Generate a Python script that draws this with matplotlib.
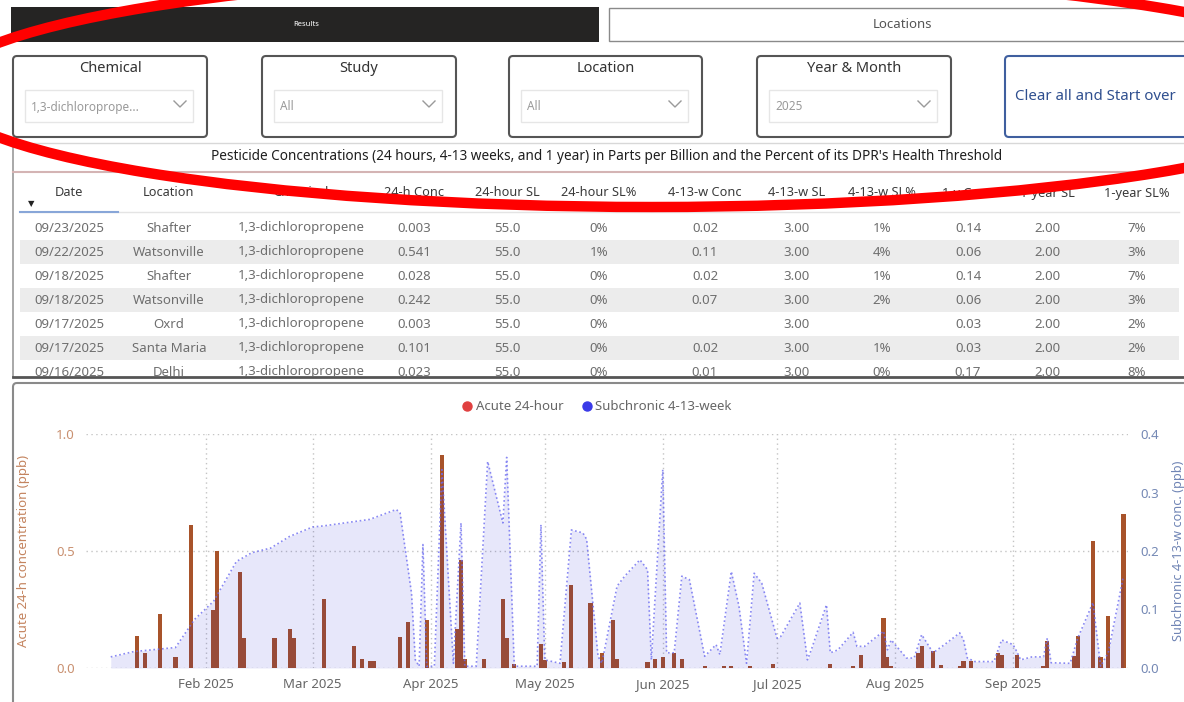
import matplotlib
matplotlib.use("Agg")
import matplotlib.pyplot as plt
import matplotlib.dates as mdates
from matplotlib.patches import FancyBboxPatch, Rectangle, Ellipse
from matplotlib.ticker import FormatStrFormatter
import pandas as pd

plt.rcParams['font.family'] = ['Noto Sans', 'DejaVu Sans']

# ---------------- data ----------------
acute_dates = ["2025-01-14", "2025-01-16", "2025-01-20", "2025-01-24", "2025-01-28", "2025-02-03",
               "2025-02-04", "2025-02-10", "2025-02-11", "2025-02-19", "2025-02-23", "2025-02-24",
               "2025-03-04", "2025-03-12", "2025-03-14", "2025-03-16", "2025-03-17", "2025-03-24",
               "2025-03-26", "2025-03-31", "2025-04-04", "2025-04-08", "2025-04-09", "2025-04-10",
               "2025-04-15", "2025-04-20", "2025-04-21", "2025-04-23", "2025-04-30", "2025-05-01",
               "2025-05-06", "2025-05-08", "2025-05-13", "2025-05-16", "2025-05-19", "2025-05-20",
               "2025-05-28", "2025-05-30", "2025-06-01", "2025-06-04", "2025-06-06", "2025-06-12",
               "2025-06-17", "2025-06-19", "2025-06-24", "2025-06-30", "2025-07-15", "2025-07-21",
               "2025-07-23", "2025-07-29", "2025-07-30", "2025-07-31", "2025-08-07", "2025-08-08",
               "2025-08-11", "2025-08-13", "2025-08-18", "2025-08-19", "2025-08-21", "2025-08-28",
               "2025-08-29", "2025-09-02", "2025-09-09", "2025-09-10", "2025-09-17", "2025-09-18",
               "2025-09-22", "2025-09-24", "2025-09-26", "2025-09-30"]
acute_vals = [0.138, 0.064, 0.232, 0.046, 0.613, 0.25, 0.50, 0.41, 0.128, 0.128, 0.167, 0.128,
              0.296, 0.093, 0.038, 0.028, 0.028, 0.131, 0.197, 0.207, 0.912, 0.167, 0.463, 0.038,
              0.038, 0.296, 0.128, 0.019, 0.103, 0.036, 0.027, 0.353, 0.278, 0.064, 0.204, 0.038,
              0.027, 0.038, 0.047, 0.064, 0.038, 0.010, 0.010, 0.007, 0.007, 0.017, 0.019, 0.010,
              0.056, 0.214, 0.046, 0.010, 0.064, 0.093, 0.074, 0.014, 0.010, 0.028, 0.028, 0.064,
              0.056, 0.056, 0.010, 0.114, 0.052, 0.135, 0.541, 0.046, 0.224, 0.658]

sub_dates = ["2025-01-07", "2025-01-13", "2025-01-24", "2025-01-29", "2025-02-03", "2025-02-09",
             "2025-02-13", "2025-02-18", "2025-02-23", "2025-03-01", "2025-03-04", "2025-03-16",
             "2025-03-23", "2025-03-24", "2025-03-27", "2025-03-28", "2025-03-29", "2025-03-30",
             "2025-03-31", "2025-04-02", "2025-04-04", "2025-04-07", "2025-04-09", "2025-04-10",
             "2025-04-13", "2025-04-16", "2025-04-20", "2025-04-21", "2025-04-23", "2025-04-29",
             "2025-04-30", "2025-05-01", "2025-05-05", "2025-05-08", "2025-05-11", "2025-05-12",
             "2025-05-15", "2025-05-16", "2025-05-20", "2025-05-22", "2025-05-26", "2025-05-28",
             "2025-05-29", "2025-06-01", "2025-06-02", "2025-06-04", "2025-06-06", "2025-06-08",
             "2025-06-12", "2025-06-15", "2025-06-16", "2025-06-19", "2025-06-21", "2025-06-23",
             "2025-06-25", "2025-06-27", "2025-07-01", "2025-07-02", "2025-07-07", "2025-07-09",
             "2025-07-10", "2025-07-14", "2025-07-15", "2025-07-17", "2025-07-21", "2025-07-22",
             "2025-07-24", "2025-07-29", "2025-07-30", "2025-07-31", "2025-08-04", "2025-08-06",
             "2025-08-08", "2025-08-11", "2025-08-14", "2025-08-18", "2025-08-19", "2025-08-20",
             "2025-08-22", "2025-08-27", "2025-08-29", "2025-09-01", "2025-09-02", "2025-09-03",
             "2025-09-06", "2025-09-09", "2025-09-10", "2025-09-11", "2025-09-16", "2025-09-18",
             "2025-09-22", "2025-09-24", "2025-09-26", "2025-09-30"]
sub_vals = [0.019, 0.028, 0.035, 0.083, 0.114, 0.182, 0.197, 0.205, 0.225, 0.241, 0.243, 0.254,
            0.271, 0.265, 0.128, 0.014, 0.003, 0.211, 0.003, 0.003, 0.339, 0.008, 0.248, 0.003,
            0.003, 0.353, 0.248, 0.360, 0.003, 0.003, 0.245, 0.014, 0.008, 0.236, 0.231, 0.220,
            0.020, 0.008, 0.140, 0.157, 0.185, 0.168, 0.014, 0.339, 0.026, 0.026, 0.157, 0.151,
            0.020, 0.040, 0.023, 0.165, 0.106, 0.008, 0.162, 0.145, 0.051, 0.054, 0.111, 0.014,
            0.031, 0.108, 0.026, 0.031, 0.061, 0.037, 0.037, 0.063, 0.031, 0.048, 0.017, 0.017,
            0.057, 0.026, 0.040, 0.060, 0.048, 0.017, 0.011, 0.011, 0.048, 0.040, 0.028, 0.014,
            0.019, 0.019, 0.051, 0.009, 0.008, 0.051, 0.112, 0.003, 0.026, 0.157]

month_ticks = ["2025-02-01", "2025-03-01", "2025-04-01", "2025-05-01",
               "2025-06-01", "2025-07-01", "2025-08-01", "2025-09-01"]
left_ticks = [0.0, 0.5, 1.0]
right_ticks = [0.0, 0.1, 0.2, 0.3, 0.4]

slicer_titles = ["Chemical", "Study", "Location", "Year & Month"]
slicer_values = ["1,3-dichloroprope...", "All", "All", "2025"]

col_headers = ["Date", "Location", "Chemical", "24-h Conc", "24-hour SL", "24-hour SL%",
               "4-13-w Conc", "4-13-w SL", "4-13-w SL%", "1-y Conc", "1-year SL", "1-year SL%"]
tbl_date = ["09/23/2025", "09/22/2025", "09/18/2025", "09/18/2025", "09/17/2025", "09/17/2025", "09/16/2025"]
tbl_loc = ["Shafter", "Watsonville", "Shafter", "Watsonville", "Oxrd", "Santa Maria", "Delhi"]
tbl_chem = ["1,3-dichloropropene"] * 7
tbl_c24 = ["0.003", "0.541", "0.028", "0.242", "0.003", "0.101", "0.023"]
tbl_sl24 = ["55.0"] * 7
tbl_p24 = ["0%", "1%", "0%", "0%", "0%", "0%", "0%"]
tbl_c413 = ["0.02", "0.11", "0.02", "0.07", "", "0.02", "0.01"]
tbl_sl413 = ["3.00"] * 7
tbl_p413 = ["1%", "4%", "1%", "2%", "", "1%", "0%"]
tbl_c1y = ["0.14", "0.06", "0.14", "0.06", "0.03", "0.03", "0.17"]
tbl_sl1y = ["2.00"] * 7
tbl_p1y = ["7%", "3%", "7%", "3%", "2%", "2%", "8%"]

# ---------------- figure ----------------
W, H = 1184, 702
fig = plt.figure(figsize=(W / 100, H / 100), dpi=100)
fig.patch.set_facecolor("white")


def px_axes(x0, y0, x1, y1, **kw):
    return fig.add_axes([x0 / W, 1 - y1 / H, (x1 - x0) / W, (y1 - y0) / H], **kw)


bg = px_axes(0, 0, W, H)
bg.set_xlim(0, W)
bg.set_ylim(H, 0)
bg.axis("off")


def rbox(ax, x0, y0, x1, y1, ec, lw=1.2, fc="none", r=4, z=1):
    p = FancyBboxPatch((x0, y0), x1 - x0, y1 - y0,
                       boxstyle=f"round,pad=0,rounding_size={r}",
                       ec=ec, fc=fc, lw=lw, zorder=z)
    ax.add_patch(p)


# top buttons
bg.add_patch(Rectangle((11, 7), 588, 35, fc="#252423", ec="none"))
bg.text(306, 25, "Results", color="white", fontsize=5.5, fontweight="bold", ha="center", va="center")
bg.add_patch(Rectangle((609, 7.5), 600, 33.5, fc="white", ec="#8a8a8a", lw=1))
bg.text(902, 25, "Locations", color="#555555", fontsize=9.5, ha="center", va="center")

# slicers
slicer_x = [(13, 207), (262, 456), (509, 702), (757, 951)]
for (x0, x1), t, v in zip(slicer_x, slicer_titles, slicer_values):
    rbox(bg, x0, 56, x1, 137, "#555555", lw=1.5)
    bg.text((x0 + x1) / 2, 69, t, fontsize=10.5, color="#333333", ha="center", va="center")
    bg.add_patch(Rectangle((x0 + 12, 90), (x1 - x0) - 26, 32, fc="white", ec="#e6e6e6", lw=1))
    bg.text(x0 + 18, 107, v, fontsize=8.5, color="#9a9a9a", ha="left", va="center")
    cx = x1 - 27
    bg.plot([cx - 6, cx, cx + 6], [101, 107, 101], color="#9a9a9a", lw=1)

rbox(bg, 1005, 56, 1200, 137, "#3f5f9f", lw=1.5)
bg.text(1015, 97, "Clear all and Start over", fontsize=10.8, color="#2f4f8f", ha="left", va="center")

# table panel
bg.plot([13, W], [143, 143], color="#d8d8d8", lw=1)
bg.plot([13, 13], [143, 377], color="#9a9a9a", lw=1.2)
bg.plot([13, W], [377, 377], color="#555555", lw=2)
bg.text(607, 157, "Pesticide Concentrations (24 hours, 4-13 weeks, and 1 year) in Parts per Billion "
        "and the Percent of its DPR's Health Threshold",
        fontsize=9.8, color="#1e1e1e", ha="center", va="center")
bg.plot([13, W], [172, 172], color="#d4b4b4", lw=1.5)

col_x = [69, 169, 301, 414, 507, 599, 705, 797, 882, 968, 1047, 1137]
for x, h in zip(col_x, col_headers):
    bg.text(x, 193, h, fontsize=9.2, color="#3a3a3a", ha="center", va="center")
bg.text(31, 204, "\u25BC", fontsize=6, color="#222222", ha="center", va="center",
        family=["DejaVu Sans"])
bg.plot([20, 1179], [212, 212], color="#e4e4e4", lw=1)
bg.plot([20, 118], [212, 212], color="#88a6d8", lw=1.5)

tax = px_axes(14, 213, 1183, 376)
tax.set_xlim(14, 1183)
tax.set_ylim(376, 213)
tax.axis("off")
cols = [tbl_date, tbl_loc, tbl_chem, tbl_c24, tbl_sl24, tbl_p24,
        tbl_c413, tbl_sl413, tbl_p413, tbl_c1y, tbl_sl1y, tbl_p1y]
for i in range(len(tbl_date)):
    yc = 228 + 24 * i
    if i % 2 == 1:
        tax.add_patch(Rectangle((20, yc - 12), 1159, 24, fc="#ececec", ec="none", zorder=0))
    for x, c in zip(col_x, cols):
        tax.text(x, yc, c[i], fontsize=9.5, color="#6e6e6e", ha="center", va="center",
                 clip_on=True, zorder=2)

# chart panel
rbox(bg, 13, 383, 1200, 720, "#8a8a8a", lw=1.5)

# legend
bg.plot([467], [406], "o", ms=6.5, color="#e04040")
bg.text(476, 406, "Acute 24-hour", fontsize=9.5, color="#666666", ha="left", va="center")
bg.plot([587], [406], "o", ms=6.5, color="#3a3ae8")
bg.text(595, 406, "Subchronic 4-13-week", fontsize=9.5, color="#666666", ha="left", va="center")

# ---------------- chart ----------------
ax = px_axes(86, 434, 1128, 668)
ad = mdates.date2num(pd.to_datetime(acute_dates))
sd = mdates.date2num(pd.to_datetime(sub_dates))
feb1 = mdates.date2num(pd.Timestamp("2025-02-01"))

ax.set_xlim(feb1 - 31.5, feb1 + 242.2)
ax.set_ylim(0, 1.0)
ax.set_xticks(mdates.date2num(pd.to_datetime(month_ticks)))
ax.xaxis.set_major_formatter(mdates.DateFormatter("%b %Y"))
ax.set_yticks(left_ticks)
ax.yaxis.set_major_formatter(FormatStrFormatter("%.1f"))
ax.grid(True, linestyle=(0, (1, 2.5)), color="#c4c4c4", lw=1)
ax.set_axisbelow(True)
for s in ax.spines.values():
    s.set_visible(False)
ax.tick_params(axis="x", length=0, pad=7, labelsize=9.5, labelcolor="#666666")
ax.tick_params(axis="y", length=0, pad=8, labelsize=9.5, labelcolor="#c99070")
ax.set_ylabel("Acute 24-h concentration (ppb)", fontsize=9.5, color="#c4845f")
ax.yaxis.set_label_coords((30 - 86) / 1042, 0.5)

ax.bar(ad, acute_vals, width=1.1, color="#a8532a", zorder=2)

ax2 = ax.twinx()
ax2.set_ylim(0, 0.4)
ax2.set_yticks(right_ticks)
ax2.yaxis.set_major_formatter(FormatStrFormatter("%.1f"))
for s in ax2.spines.values():
    s.set_visible(False)
ax2.tick_params(axis="y", length=0, pad=9, labelsize=9.5, labelcolor="#7589b5")
ax2.set_ylabel("Subchronic 4-13-w conc. (ppb)", fontsize=9.2, color="#7085b5", rotation=90)
ax2.yaxis.set_label_coords((1172 - 86) / 1042, 0.5)
ax2.fill_between(sd, sub_vals, 0, color=(0.0, 0.0, 0.8), alpha=0.095, lw=0, zorder=3)
ax2.plot(sd, sub_vals, linestyle=(0, (1, 1.6)), color="#6c6cf0", lw=1.2, alpha=0.8, zorder=4)

# ---------------- red annotation ellipse ----------------
top = px_axes(0, 0, W, H, zorder=20)
top.set_xlim(0, W)
top.set_ylim(H, 0)
top.axis("off")
top.patch.set_alpha(0)
top.add_patch(Ellipse((652, 90), 2 * 714, 2 * 117, fill=False, ec="#ff0000", lw=7.5))

fig.savefig("out.png", dpi=100)
